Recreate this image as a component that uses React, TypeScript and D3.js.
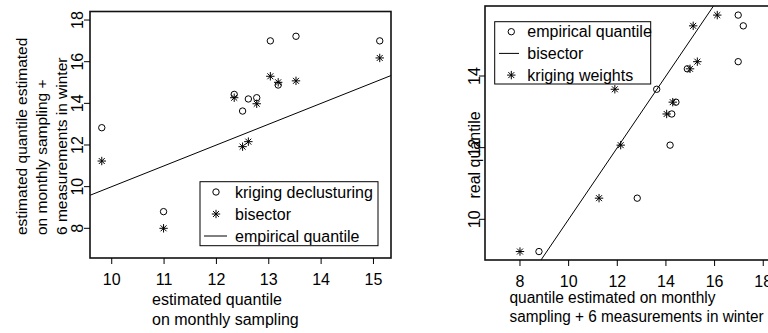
import React from "react";
import * as d3 from "d3";

// ---------- Left panel data ----------
const leftX = [9.81, 10.99, 12.34, 12.5, 12.61, 12.77, 13.03, 13.18, 13.52, 15.12];
const leftDeclustY = [12.83, 8.8, 14.43, 13.63, 14.21, 14.27, 17.0, 14.88, 17.22, 17.0];
const leftBisectorY = [11.23, 8.0, 14.27, 11.92, 12.16, 13.98, 15.3, 15.01, 15.08, 16.18];
const leftXTicks = [10, 11, 12, 13, 14, 15];
const leftYTicks = [8, 10, 12, 14, 16, 18];
const leftLegend = ["kriging declusturing", "bisector", "empirical quantile"];
const leftYLabel = ["estimated quantile estimated", "on monthly sampling +", "6 measurements in winter"];
const leftXLabel = ["estimated quantile", "on monthly sampling"];

// ---------- Right panel data ----------
const rightY = [15.7, 15.4, 14.4, 14.2, 13.63, 13.27, 12.94, 12.07, 10.59, 9.1];
const rightEmpiricalX = [16.97, 17.18, 16.97, 14.88, 13.62, 14.41, 14.24, 14.17, 12.82, 8.78];
const rightKrigingX = [16.11, 15.12, 15.29, 14.99, 11.9, 14.28, 14.03, 12.14, 11.25, 8.0];
const rightXTicks = [8, 10, 12, 14, 16, 18];
const rightYTicks = [10, 12, 14];
const rightLegend = ["empirical quantile", "bisector", "kriging weights"];
const rightYLabel = "real quantile";
const rightXLabel = ["quantile estimated on monthly", "sampling + 6 measurements in winter"];

const FONT = "'Liberation Sans', Arial, Helvetica, sans-serif";
const FS = 16;

function Star({ x, y, r = 4.2 }: { x: number; y: number; r?: number }) {
  const d = r * Math.SQRT1_2;
  return (
    <path
      d={`M${x - r},${y}L${x + r},${y}M${x},${y - r}L${x},${y + r}M${x - d},${y - d}L${x + d},${y + d}M${x - d},${y + d}L${x + d},${y - d}`}
      stroke="#000"
      strokeWidth={1}
      fill="none"
    />
  );
}

function Circ({ x, y }: { x: number; y: number }) {
  return <circle cx={x} cy={y} r={3.2} fill="none" stroke="#000" strokeWidth={1} />;
}

export default function App() {
  // Left panel scales
  const lx = d3.scaleLinear().domain([9.585, 15.335]).range([90, 391]);
  const ly = d3.scaleLinear().domain([6.574, 18.41]).range([258, 11.5]);
  // Right panel scales
  const rx = d3.scaleLinear().domain([6.562, 19.1]).range([485, 790]);
  const ry = d3.scaleLinear().domain([8.864, 15.954]).range([260, 6]);

  const [lx0, lx1] = lx.domain();
  const [ry0, ry1] = ry.domain();
  const lineGen = (sx: d3.ScaleLinear<number, number>, sy: d3.ScaleLinear<number, number>) =>
    d3.line<number>().x((v) => sx(v)).y((v) => sy(v));

  const leftLine = lineGen(lx, ly)([lx0, lx1]) || "";
  const rightLine = lineGen(rx, ry)([ry0, ry1]) || "";

  const tick = 6;

  return (
    <svg
      width={768}
      height={333}
      style={{ position: "absolute", left: 0, top: 0, background: "#fff" }}
      fontFamily={FONT}
      fontSize={FS}
    >
      <rect x={0} y={0} width={768} height={333} fill="#fff" />
      {/* ================= LEFT PANEL ================= */}
      <g>
        <path d={leftLine} stroke="#000" strokeWidth={1} fill="none" />
        {leftX.map((v, i) => (
          <Circ key={"lc" + i} x={lx(v)} y={ly(leftDeclustY[i])} />
        ))}
        {leftX.map((v, i) => (
          <Star key={"ls" + i} x={lx(v)} y={ly(leftBisectorY[i])} />
        ))}
        <rect
          x={lx.range()[0]}
          y={ly.range()[1]}
          width={lx.range()[1] - lx.range()[0]}
          height={ly.range()[0] - ly.range()[1]}
          fill="none"
          stroke="#111"
          strokeWidth={1.6}
        />
        {leftXTicks.map((t) => (
          <g key={"lxt" + t}>
            <line x1={lx(t)} x2={lx(t)} y1={258} y2={258 + tick} stroke="#000" />
            <text x={lx(t)} y={285} textAnchor="middle">
              {t}
            </text>
          </g>
        ))}
        {leftYTicks.map((t) => (
          <g key={"lyt" + t}>
            <line x1={90 - tick} x2={90} y1={ly(t)} y2={ly(t)} stroke="#000" />
            <text transform={`translate(83,${ly(t)}) rotate(-90)`} textAnchor="middle">
              {t}
            </text>
          </g>
        ))}
        {leftYLabel.map((s, i) => (
          <text
            key={"lyl" + i}
            transform={`translate(${27 + i * 20},235) rotate(-90)`}
            textAnchor="start"
            fontSize={15.5}
          >
            {s}
          </text>
        ))}
        {leftXLabel.map((s, i) => (
          <text key={"lxl" + i} x={152} y={305 + i * 20} textAnchor="start">
            {s}
          </text>
        ))}
        {/* legend */}
        <rect x={200} y={181.7} width={178} height={64} fill="#fff" stroke="#000" strokeWidth={1} />
        {leftLegend.map((s, i) => {
          const cy = 192 + i * 22;
          return (
            <g key={"ll" + i}>
              {i === 0 && <Circ x={216} y={cy} />}
              {i === 1 && <Star x={216} y={cy} />}
              {i === 2 && <line x1={204} x2={227} y1={cy} y2={cy} stroke="#000" />}
              <text x={235} y={cy + 5.5}>
                {s}
              </text>
            </g>
          );
        })}
      </g>

      {/* ================= RIGHT PANEL ================= */}
      <g>
        <path d={rightLine} stroke="#000" strokeWidth={1} fill="none" />
        {rightY.map((v, i) => (
          <Circ key={"rc" + i} x={rx(rightEmpiricalX[i])} y={ry(v)} />
        ))}
        {rightY.map((v, i) => (
          <Star key={"rs" + i} x={rx(rightKrigingX[i])} y={ry(v)} />
        ))}
        <rect
          x={rx.range()[0]}
          y={ry.range()[1]}
          width={rx.range()[1] - rx.range()[0]}
          height={ry.range()[0] - ry.range()[1]}
          fill="none"
          stroke="#111"
          strokeWidth={1.6}
        />
        {rightXTicks.map((t) => (
          <g key={"rxt" + t}>
            <line x1={rx(t)} x2={rx(t)} y1={260} y2={260 + tick} stroke="#000" />
            <text x={rx(t)} y={287} textAnchor="middle">
              {t}
            </text>
          </g>
        ))}
        {rightYTicks.map((t) => (
          <g key={"ryt" + t}>
            <line x1={485 - tick} x2={485} y1={ry(t)} y2={ry(t)} stroke="#000" />
            <text transform={`translate(480,${ry(t)}) rotate(-90)`} textAnchor="middle">
              {t}
            </text>
          </g>
        ))}
        <text transform={`translate(480,155) rotate(-90)`} textAnchor="middle">
          {rightYLabel}
        </text>
        <text x={509.5} y={302.5} textAnchor="start" textLength={206} lengthAdjust="spacingAndGlyphs">
          {rightXLabel[0]}
        </text>
        <text x={509.5} y={321.5} textAnchor="start" textLength={254} lengthAdjust="spacingAndGlyphs">
          {rightXLabel[1]}
        </text>
        {/* legend */}
        <rect x={494.7} y={21.7} width={156} height={62.3} fill="#fff" stroke="#000" strokeWidth={1} />
        {rightLegend.map((s, i) => {
          const cy = 31.7 + i * 21.7;
          return (
            <g key={"rl" + i}>
              {i === 0 && <Circ x={511.3} y={cy} />}
              {i === 1 && <line x1={499} x2={519} y1={cy} y2={cy} stroke="#000" />}
              {i === 2 && <Star x={511.3} y={cy} />}
              <text x={527.3} y={cy + 5.5}>
                {s}
              </text>
            </g>
          );
        })}
      </g>
    </svg>
  );
}
